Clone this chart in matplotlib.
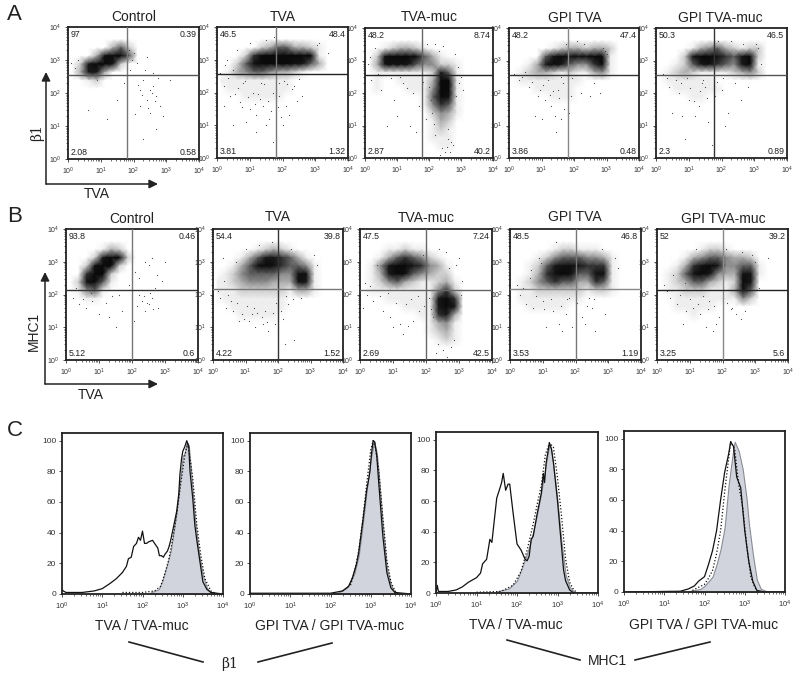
import numpy as np
import matplotlib
matplotlib.use('Agg')
import matplotlib.pyplot as plt
from matplotlib.colors import LinearSegmentedColormap

plt.rcParams['font.family'] = ['Liberation Sans', 'DejaVu Sans']

W, H = 800, 675

titles = ['Control', 'TVA', 'TVA-muc', 'GPI TVA', 'GPI TVA-muc']

# quadrant percentages: upper left, upper right, lower left, lower right
a_pct = [['97', '0.39', '2.08', '0.58'], ['46.5', '48.4', '3.81', '1.32'],
         ['48.2', '8.74', '2.87', '40.2'], ['48.2', '47.4', '3.86', '0.48'],
         ['50.3', '46.5', '2.3', '0.89']]
b_pct = [['93.8', '0.46', '5.12', '0.6'], ['54.4', '39.8', '4.22', '1.52'],
         ['47.5', '7.24', '2.69', '42.5'], ['48.5', '46.8', '3.53', '1.19'],
         ['52', '39.2', '3.25', '5.6']]

# density, 0-9, quarter decade cells, top row first
a_control = ['', '', '00000352', '0003899500', '0279972', '03773', '0012']
a_tva = ['', '', '0000023553321', '0002699999991', '0025899998753', '0134554332100',
         '111111111', '011111111', '00011111']
a_muc = ['', '', '0012332100', '0289998531', '0388875442210', '011111112751',
         '010011113991', '010001114991', '000000015981', '000000014651',
         '000000002431', '00000000132', '00000000121', '00000000111', '00000000011']
a_gpi = ['', '', '0000012332332', '0000579888991', '0013797544691',
         '0123321211341', '011111111', '00011111', '00000111']
a_gpimuc = ['', '', '0000134532122', '0002799865792', '0012578654791',
            '0123211112342', '0111111', '00111111', '000011']

b_control = ['', '', '00001320', '00027992', '0028992', '006992', '028951', '01451', '0011']
b_tva = ['', '', '0000012321', '000135776531', '0013589865541', '0124555544881',
         '1123444333871', '1112222221331', '011111111', '001111111', '00011111']
b_muc = ['', '', '00011211', '0013565421', '01479976431', '01379854322', '012453211231',
         '011111111462', '000111111796', '000001111797', '000000011673', '000000001341',
         '000000001231', '000000000121']
b_gpi = ['', '', '00000122111', '0001245554431', '0012578876661', '0013689855881',
         '0124565533651', '0112222221221', '011111111', '0011111']
b_gpimuc = ['', '', '000001221', '000134554332', '0013689744551', '0125897433871',
            '012355321297', '011222111385', '001111111142', '0011111', '00001']

# scattered single events, log10 x / log10 y
a_control_x = [2.3, 2.5, 2.7, 2.2, 2.9, 2.4, 2.6, 2.1, 1.9, 2.5, 2.8, 2.3, 0.6, 1.2, 1.7, 2.2, 2.6, 0.3, 2.0, 2.4, 1.8, 3.1, 0.9, 1.5, 2.7, 2.05, 2.35,
               2.15, 2.45, 2.65, 1.95, 2.75, 0.2, 0.1, 1.85, 2.25, 2.55]
a_control_y = [2.4, 2.1, 1.9, 1.6, 1.3, 1.8, 2.2, 2.9, 2.7, 1.4, 1.6, 0.6, 1.5, 1.2, 2.3, 2.1, 2.6, 3.0, 3.2, 3.1, 2.0, 2.4, 2.4, 1.8, 0.9, 1.35, 2.7,
               2.25, 1.55, 1.75, 3.0, 2.45, 2.75, 2.9, 3.3, 1.95, 2.0]
a_tva_x = [0.2, 0.4, 0.7, 1.0, 1.2, 1.4, 1.6, 1.7, 1.9, 2.1, 0.3, 0.6, 1.1, 1.5, 2.3, 2.5, 0.1, 0.8, 1.3, 1.8, 2.0, 2.2, 0.5, 0.9, 1.2, 1.7, 1.9, 2.6, 3.4, 3.1, 0.5, 1.5, 1.0, 0.2, 1.75,
           0.35, 0.65, 0.95, 1.25, 1.55, 1.85, 2.15, 2.45, 0.55, 0.85, 1.15, 1.45, 1.65, 2.05, 2.35, 0.25, 0.75, 1.35, 1.95, 3.05]
a_tva_y = [2.2, 1.9, 1.7, 1.5, 1.3, 1.6, 1.2, 2.0, 1.9, 1.6, 3.0, 3.3, 2.0, 1.0, 2.1, 2.4, 2.6, 2.3, 1.8, 1.4, 1.0, 1.3, 2.7, 1.1, 0.8, 0.5, 2.3, 1.9, 3.2, 3.5, 1.0, 3.6, 3.5, 1.6, 3.7,
           2.45, 2.15, 1.85, 1.95, 1.75, 1.55, 2.25, 1.75, 1.95, 2.35, 1.65, 2.25, 1.45, 2.35, 2.2, 2.85, 1.55, 2.3, 1.25, 3.45]
a_muc_x = [0.2, 0.5, 0.9, 1.2, 1.5, 1.7, 2.0, 2.3, 2.8, 2.9, 2.2, 2.6, 3.0, 0.3, 1.0, 1.4, 1.9, 2.1, 2.4, 2.7, 2.5, 2.2, 2.6, 2.75, 2.05, 2.85, 1.6, 0.7, 2.35, 2.55, 2.65,
           0.1, 0.15, 0.4, 0.8, 1.1, 1.3, 1.8, 2.45, 2.15, 2.95, 3.05, 1.95]
a_muc_y = [2.4, 2.1, 1.8, 2.3, 2.0, 1.6, 2.2, 3.3, 3.2, 2.8, 3.5, 0.9, 2.5, 3.4, 1.3, 1.0, 1.2, 1.4, 0.3, 0.5, 0.2, 0.7, 0.6, 0.4, 1.8, 1.9, 0.8, 1.0, 0.1, 0.35, 0.2,
           2.9, 3.1, 2.6, 2.45, 2.5, 2.15, 2.35, 3.45, 1.05, 2.3, 2.1, 3.5]
a_gpi_x = [0.3, 0.6, 0.9, 1.1, 1.3, 1.5, 1.7, 1.9, 2.2, 2.6, 0.8, 1.0, 1.4, 1.6, 1.45, 2.9, 3.0, 2.1, 1.75, 0.5, 1.2, 1.6, 2.5, 2.8, 0.15, 1.85,
           0.4, 0.7, 1.05, 1.35, 1.65, 1.95, 0.95, 1.25, 1.55, 2.3, 2.95, 0.25]
a_gpi_y = [2.4, 2.2, 1.9, 1.8, 1.6, 2.1, 1.5, 1.9, 2.0, 2.3, 1.3, 1.2, 1.3, 1.2, 0.8, 3.4, 3.2, 3.6, 3.5, 2.65, 2.4, 2.5, 1.9, 2.0, 2.6, 1.4,
           2.5, 2.35, 2.25, 2.05, 2.3, 2.45, 2.1, 1.95, 1.85, 3.5, 3.3, 2.55]
a_gpimuc_x = [0.4, 0.7, 1.0, 1.3, 1.5, 1.8, 2.0, 2.4, 0.8, 0.5, 1.2, 0.9, 1.6, 2.2, 2.6, 2.8, 3.1, 1.9, 2.3, 0.2, 0.6, 1.4, 1.7, 3.2, 2.1,
              0.35, 0.75, 1.05, 1.35, 1.55, 1.85, 1.15, 0.95, 1.45, 2.05, 2.65, 3.05]
a_gpimuc_y = [2.2, 2.0, 1.8, 1.6, 2.2, 1.9, 2.1, 2.3, 1.3, 1.4, 1.3, 0.6, 1.1, 1.4, 1.8, 2.2, 3.4, 3.6, 3.6, 2.6, 2.4, 2.3, 0.4, 2.9, 1.0,
              2.45, 2.3, 2.15, 2.05, 1.85, 2.35, 1.75, 2.45, 2.4, 2.45, 3.5, 3.5]

b_control_x = [2.3, 2.5, 2.6, 2.4, 2.2, 2.7, 2.8, 2.1, 2.5, 1.3, 0.8, 1.0, 1.7, 2.4, 2.6, 3.0, 2.2, 0.4, 1.6, 2.9, 2.45, 2.65, 2.35, 0.3, 1.5, 2.05,
               0.2, 0.5, 0.6, 0.75, 1.2, 1.4, 1.9, 2.55, 2.75, 2.15]
b_control_y = [1.8, 1.7, 1.9, 1.5, 2.0, 2.2, 1.6, 2.7, 2.9, 1.3, 1.8, 1.4, 1.5, 3.0, 3.1, 3.0, 2.5, 1.7, 2.0, 2.4, 1.75, 1.55, 1.95, 2.2, 1.0, 1.2,
               1.9, 1.85, 1.6, 2.05, 1.75, 1.95, 2.3, 2.05, 2.6, 1.65]
b_tva_x = [0.2, 0.4, 0.6, 0.9, 1.1, 1.3, 1.5, 1.7, 1.9, 2.1, 2.3, 0.7, 1.0, 1.4, 1.8, 2.4, 3.2, 0.3, 0.8, 1.2, 2.0, 2.5, 2.7, 3.1, 1.6, 2.2,
           0.15, 0.45, 0.75, 1.05, 1.35, 1.65, 1.95, 2.25, 0.55, 0.95, 1.25, 1.55, 1.85, 2.15, 2.45, 0.35]
b_tva_y = [1.9, 1.6, 1.5, 1.4, 1.2, 1.0, 1.3, 0.9, 1.1, 1.5, 1.7, 3.0, 3.4, 3.5, 3.6, 3.4, 2.9, 3.1, 1.2, 1.4, 0.9, 0.6, 1.9, 3.2, 1.5, 0.5,
           2.1, 2.0, 1.75, 1.65, 1.45, 1.15, 1.75, 1.95, 1.8, 1.25, 1.6, 1.1, 1.45, 1.25, 1.85, 2.4]
b_muc_x = [0.2, 0.4, 0.7, 0.9, 1.2, 1.4, 1.6, 1.8, 2.0, 2.1, 2.2, 0.5, 1.0, 1.9, 2.4, 2.6, 2.7, 2.9, 3.1, 2.5, 2.35, 2.85, 0.1, 1.3, 2.3, 2.65, 3.0, 2.75,
           0.3, 0.6, 0.85, 1.1, 1.55, 1.75, 1.95, 2.15, 1.45, 0.15, 3.05]
b_muc_y = [2.0, 1.8, 1.5, 1.3, 1.1, 1.7, 1.2, 1.5, 1.0, 1.9, 1.3, 2.9, 1.0, 3.2, 3.4, 3.3, 2.8, 2.9, 2.4, 0.3, 0.5, 0.6, 1.6, 0.8, 0.2, 0.1, 3.1, 0.4,
           2.25, 1.95, 2.05, 1.75, 1.85, 1.95, 1.65, 1.55, 1.05, 2.35, 2.0]
b_gpi_x = [0.3, 0.5, 0.7, 1.0, 1.3, 1.5, 1.7, 1.9, 2.2, 2.5, 0.9, 1.4, 2.0, 2.8, 3.2, 1.6, 2.4, 2.6, 0.2, 0.6, 1.1, 3.3, 2.9, 2.3, 1.8,
           0.4, 0.8, 1.05, 1.25, 1.55, 1.75, 2.05, 2.35, 2.55, 0.65, 0.95]
b_gpi_y = [2.0, 1.7, 1.6, 1.8, 1.5, 1.1, 1.4, 1.0, 1.3, 1.6, 3.1, 3.6, 3.5, 3.4, 3.1, 0.9, 1.9, 0.9, 2.3, 2.5, 1.0, 2.8, 1.4, 1.1, 1.9,
           2.2, 1.95, 1.55, 1.85, 1.65, 1.85, 1.75, 1.65, 1.85, 2.75, 2.95]
b_gpimuc_x = [0.4, 0.6, 0.9, 1.1, 1.3, 1.6, 1.8, 2.0, 2.3, 0.8, 1.5, 1.2, 2.1, 2.6, 2.9, 3.0, 3.4, 0.2, 0.5, 1.7, 2.4, 2.7, 1.9, 3.1,
              0.3, 0.7, 1.0, 1.4, 1.55, 1.75, 2.15, 0.85, 1.25, 2.25, 2.55]
b_gpimuc_y = [1.9, 1.7, 1.5, 1.6, 1.4, 1.8, 1.1, 1.9, 1.6, 1.1, 1.0, 3.4, 3.4, 3.3, 3.2, 3.0, 3.1, 2.3, 2.6, 0.9, 1.4, 1.5, 1.3, 2.2,
              2.1, 2.0, 1.85, 1.95, 1.55, 1.65, 1.75, 2.35, 1.7, 1.55, 1.25]

# gates in decades
a_gate_x = [1.79, 1.8, 1.78, 1.8, 1.78]
a_gate_y = [2.54, 2.55, 2.54, 2.54, 2.55]
b_gate_x = [2.0, 2.0, 2.0, 2.0, 2.0]
b_gate_y = [2.15, 2.17, 2.15, 2.17, 2.15]

# histograms: log10 x, percent of max
c1_gray_x = [2.2, 2.4, 2.5, 2.6, 2.7, 2.8, 2.9, 3.0, 3.05, 3.1, 3.15, 3.2, 3.3, 3.4, 3.5, 3.6, 3.7, 4.0]
c1_gray_y = [1, 3, 9, 18, 28, 45, 65, 90, 92, 99, 97, 82, 50, 27, 12, 4, 1, 0]
c1_solid_x = [0, 0.03, 0.1, 0.5, 0.8, 1.0, 1.2, 1.35, 1.5, 1.6, 1.65, 1.72, 1.78, 1.85, 1.9, 1.95, 2.0, 2.05, 2.1, 2.15, 2.25,
              2.3, 2.38, 2.42, 2.47, 2.52, 2.56, 2.62, 2.66, 2.7, 2.78, 2.85, 2.9, 2.93, 2.97, 3.0, 3.05, 3.1, 3.15, 3.18, 3.25,
              3.3, 3.35, 3.4, 3.5, 3.6, 3.7, 4.0]
c1_solid_y = [3, 2, 1, 1, 2, 3.5, 7, 10, 14, 18, 23, 24, 31, 33, 37, 35, 41, 33, 33, 34, 35,
              33, 30, 25, 25, 24, 26, 28, 31, 35, 45, 54, 65, 78, 88, 93, 96, 100, 96, 80, 62,
              45, 35, 26, 8, 3, 1, 0]
c1_dot_x = [1.5, 2.0, 2.3, 2.45, 2.55, 2.65, 2.75, 2.85, 2.95, 3.05, 3.12, 3.2, 3.25, 3.35, 3.45, 3.55, 3.7, 3.85]
c1_dot_y = [1, 1, 2, 5, 13, 22, 36, 52, 72, 90, 98, 85, 75, 45, 25, 10, 2, 0]

c2_gray_x = [2.0, 2.2, 2.4, 2.5, 2.6, 2.7, 2.8, 2.9, 2.95, 3.0, 3.05, 3.08, 3.15, 3.2, 3.3, 3.4, 3.5, 3.6, 3.8]
c2_gray_y = [0.5, 1, 4, 8, 14, 25, 45, 68, 78, 88, 95, 100, 92, 78, 45, 17, 6, 1, 0]
c2_solid_x = [0, 1.0, 2.0, 2.3, 2.45, 2.55, 2.65, 2.7, 2.8, 2.9, 2.95, 2.98, 3.02, 3.06, 3.1, 3.15, 3.2, 3.3, 3.4, 3.5, 3.6, 4.0]
c2_solid_y = [0.5, 0.5, 0.5, 2, 5, 11, 20, 27, 47, 68, 75, 80, 92, 100, 99, 90, 72, 38, 14, 4, 1, 0]
c2_dot_x = [2.3, 2.5, 2.6, 2.7, 2.8, 2.9, 3.0, 3.06, 3.12, 3.2, 3.3, 3.4, 3.5, 3.6, 3.7]
c2_dot_y = [2, 6, 15, 28, 48, 72, 94, 100, 95, 80, 50, 22, 8, 2, 0]

c3_gray_x = [1.5, 1.8, 2.0, 2.1, 2.2, 2.3, 2.4, 2.5, 2.6, 2.7, 2.8, 2.85, 2.95, 3.0, 3.1, 3.2, 3.3, 3.4]
c3_gray_y = [1, 3, 8, 15, 22, 30, 40, 52, 66, 82, 97, 93, 72, 60, 33, 12, 4, 1]
c3_solid_x = [0, 0.03, 0.06, 0.3, 0.5, 0.65, 0.8, 1.0, 1.1, 1.15, 1.25, 1.3, 1.33, 1.38, 1.45, 1.5, 1.55, 1.62, 1.66, 1.72, 1.78, 1.82, 1.9,
              2.0, 2.1, 2.2, 2.25, 2.3, 2.35, 2.4, 2.5, 2.6, 2.65, 2.68, 2.72, 2.8, 2.85, 2.9, 3.0, 3.1, 3.15, 3.2, 3.3, 3.4, 4.0]
c3_solid_y = [0, 5, 1, 1, 2, 4, 7, 10, 13, 19, 22, 30, 35, 33, 50, 62, 66, 72, 78, 67, 71, 71, 53,
              32, 28, 22, 21, 24, 35, 37, 52, 65, 78, 72, 85, 98, 94, 85, 60, 30, 15, 8, 2, 0, 0]
c3_dot_x = [1.0, 1.6, 1.9, 2.1, 2.25, 2.4, 2.5, 2.6, 2.7, 2.8, 2.9, 3.0, 3.1, 3.2, 3.3, 3.4, 3.5]
c3_dot_y = [0.5, 1, 5, 14, 28, 45, 58, 70, 90, 98, 95, 75, 50, 22, 7, 2, 0]

c4_gray_x = [1.6, 1.9, 2.0, 2.2, 2.3, 2.4, 2.5, 2.6, 2.7, 2.75, 2.85, 2.95, 3.0, 3.05, 3.1, 3.2, 3.3, 3.4, 3.6]
c4_gray_y = [0.5, 2, 4, 10, 18, 28, 42, 70, 90, 98, 92, 80, 70, 60, 45, 25, 8, 2, 0]
c4_solid_x = [0, 1.4, 1.6, 1.75, 1.85, 2.0, 2.1, 2.2, 2.3, 2.4, 2.5, 2.6, 2.65, 2.72, 2.8, 2.9, 3.0, 3.1, 3.2, 3.3, 3.5, 4.0]
c4_solid_y = [0, 0.5, 2, 4, 7, 10, 18, 27, 40, 60, 78, 90, 98, 95, 75, 68, 40, 20, 7, 1, 0, 0]
c4_dot_x = [1.7, 2.0, 2.1, 2.2, 2.3, 2.4, 2.5, 2.6, 2.65, 2.75, 2.85, 2.95, 3.05, 3.15, 3.25, 3.35]
c4_dot_y = [1, 5, 9, 14, 25, 40, 65, 87, 98, 93, 70, 55, 30, 10, 3, 0]

c_labels = ['TVA / TVA-muc', 'GPI TVA / GPI TVA-muc', 'TVA / TVA-muc', 'GPI TVA / GPI TVA-muc']

flow_cmap = LinearSegmentedColormap.from_list('flow', [(0, '#ffffff'), (1 / 9, '#eeeeee'), (4 / 9, '#8c8c8c'), (6.5 / 9, '#1c1c1c'), (1, '#0a0a0a')])


def add_axes_px(fig, left, top, right, bottom):
    return fig.add_axes([left / W, 1 - bottom / H, (right - left) / W, (bottom - top) / H])


def style_log(ax, size):
    ax.set_xscale('log')
    ax.set_xlim(1, 1e4)
    ax.set_xticks([1, 10, 100, 1000, 10000])
    ax.tick_params(which='major', labelsize=size, length=2.5, width=0.6, pad=2, colors='#333333')
    ax.tick_params(which='minor', length=1.2, width=0.4, labelbottom=False, labelleft=False)
    for s in ax.spines.values():
        s.set_linewidth(1.3)
        s.set_color('#222222')


def density_panel(fig, box, grid, dx, dy, gate_x, gate_y, pct, gate_col):
    ax = add_axes_px(fig, *box)
    style_log(ax, 5)
    ax.set_yscale('log')
    ax.set_ylim(1, 1e4)
    ax.set_yticks([1, 10, 100, 1000, 10000])
    ax.tick_params(which='major', labelsize=5, length=2.5, width=0.6, pad=2, colors='#333333')
    ax.tick_params(which='minor', length=1.2, width=0.4, labelleft=False)

    rows = [[int(ch) for ch in r.ljust(16, '0')] for r in grid]
    while len(rows) < 16:
        rows.append([0] * 16)
    z = np.array(rows, dtype=float)
    centers = 10 ** (np.arange(16) * 0.25 + 0.125)
    centers_y = 10 ** (4 - np.arange(16) * 0.25 - 0.125)
    ax.pcolormesh(centers, centers_y, z, shading='gouraud', cmap=flow_cmap, vmin=0, vmax=9, rasterized=True)
    ax.scatter(10 ** np.array(dx), 10 ** np.array(dy), s=0.7, c='#444444', linewidths=0, zorder=2)

    ax.axvline(10 ** gate_x, color=gate_col[0], lw=1.0, zorder=3)
    ax.axhline(10 ** gate_y, color=gate_col[1], lw=1.0, zorder=3)

    ax.text(0.02, 0.975, pct[0], transform=ax.transAxes, fontsize=6.3, va='top', color='#222222')
    ax.text(0.98, 0.975, pct[1], transform=ax.transAxes, fontsize=6.3, va='top', ha='right', color='#222222')
    ax.text(0.02, 0.015, pct[2], transform=ax.transAxes, fontsize=6.3, va='bottom', color='#222222')
    ax.text(0.98, 0.015, pct[3], transform=ax.transAxes, fontsize=6.3, va='bottom', ha='right', color='#222222')


def hist_panel(fig, box, gray, solid, dotted):
    ax = add_axes_px(fig, *box)
    style_log(ax, 5.5)
    ax.set_ylim(0, 105)
    ax.set_yticks([0, 20, 40, 60, 80, 100])
    ax.tick_params(axis='y', labelsize=6, length=2)
    ax.fill_between(10 ** np.array(gray[0]), gray[1], color='#d1d4dd', lw=0.8, edgecolor='#8a8c94')
    ax.plot(10 ** np.array(dotted[0]), dotted[1], color='#111111', lw=0.9, ls=(0, (1, 1.6)))
    ax.plot(10 ** np.array(solid[0]), solid[1], color='#111111', lw=0.9)


fig = plt.figure(figsize=(W / 100, H / 100), dpi=100)

a_boxes = [(68, 27, 199, 159), (217, 27, 348, 158), (365, 28, 493, 158), (509, 28, 639, 158), (656, 28, 787, 158)]
b_boxes = [(66, 229, 198, 360), (213, 229, 343, 360), (360, 229, 492, 360), (510, 229, 641, 360), (657, 229, 788, 360)]
c_boxes = [(62, 433, 223, 594), (250, 433, 411, 594), (436, 432, 598, 593), (624, 431, 785, 592)]

a_grids = [a_control, a_tva, a_muc, a_gpi, a_gpimuc]
b_grids = [b_control, b_tva, b_muc, b_gpi, b_gpimuc]
a_dots = [(a_control_x, a_control_y), (a_tva_x, a_tva_y), (a_muc_x, a_muc_y), (a_gpi_x, a_gpi_y), (a_gpimuc_x, a_gpimuc_y)]
b_dots = [(b_control_x, b_control_y), (b_tva_x, b_tva_y), (b_muc_x, b_muc_y), (b_gpi_x, b_gpi_y), (b_gpimuc_x, b_gpimuc_y)]
a_cols = [('#777777', '#555555'), ('#777777', '#222222'), ('#666666', '#222222'), ('#888888', '#333333'), ('#333333', '#555555')]
b_cols = [('#777777', '#333333'), ('#333333', '#777777'), ('#666666', '#666666'), ('#777777', '#888888'), ('#888888', '#222222')]

for i in range(5):
    density_panel(fig, a_boxes[i], a_grids[i], a_dots[i][0], a_dots[i][1], a_gate_x[i], a_gate_y[i], a_pct[i], a_cols[i])
    density_panel(fig, b_boxes[i], b_grids[i], b_dots[i][0], b_dots[i][1], b_gate_x[i], b_gate_y[i], b_pct[i], b_cols[i])

hist_panel(fig, c_boxes[0], (c1_gray_x, c1_gray_y), (c1_solid_x, c1_solid_y), (c1_dot_x, c1_dot_y))
hist_panel(fig, c_boxes[1], (c2_gray_x, c2_gray_y), (c2_solid_x, c2_solid_y), (c2_dot_x, c2_dot_y))
hist_panel(fig, c_boxes[2], (c3_gray_x, c3_gray_y), (c3_solid_x, c3_solid_y), (c3_dot_x, c3_dot_y))
hist_panel(fig, c_boxes[3], (c4_gray_x, c4_gray_y), (c4_solid_x, c4_solid_y), (c4_dot_x, c4_dot_y))

# overlay in pixel coordinates for the labels, arrows and brackets
ov = fig.add_axes([0, 0, 1, 1], zorder=10)
ov.set_xlim(0, W)
ov.set_ylim(H, 0)
ov.axis('off')
ov.patch.set_alpha(0)

txt = dict(ha='center', va='center', color='#222222')
ov.text(14, 14, 'A', fontsize=16, **txt)
ov.text(15, 217, 'B', fontsize=16, **txt)
ov.text(15, 430, 'C', fontsize=16, **txt)

a_title_x = [134, 283, 429, 575, 720]
a_title_y = [17, 17, 17, 18, 18]
b_title_x = [132, 278, 426, 575, 723]
b_title_y = [219, 217, 218, 217, 219]
for i in range(5):
    ov.text(a_title_x[i], a_title_y[i], titles[i], fontsize=10, **txt)
    ov.text(b_title_x[i], b_title_y[i], titles[i], fontsize=10, **txt)

for x0, y0, y1, x1 in [(46, 184, 72, 158), (45, 384, 272, 158)]:
    ov.annotate('', xy=(x0, y1), xytext=(x0, y0), arrowprops=dict(arrowstyle='-|>', color='#222222', lw=1.1, mutation_scale=13, shrinkA=0, shrinkB=0))
    ov.annotate('', xy=(x1, y0), xytext=(x0, y0), arrowprops=dict(arrowstyle='-|>', color='#222222', lw=1.1, mutation_scale=13, shrinkA=0, shrinkB=0))

ov.text(37, 133, 'β1', fontsize=10, rotation=90, family='DejaVu Serif', **txt)
ov.text(97, 194, 'TVA', fontsize=10, **txt)
ov.text(34, 331, 'MHC1', fontsize=10, rotation=90, **txt)
ov.text(91, 395, 'TVA', fontsize=10, **txt)

c_label_x = [142, 330, 516, 704]
c_label_y = [626, 626, 625, 625]
for i in range(4):
    ov.text(c_label_x[i], c_label_y[i], c_labels[i], fontsize=10, **txt)

ov.plot([129, 203], [642, 662], color='#222222', lw=1.2)
ov.plot([258, 332], [662, 643], color='#222222', lw=1.2)
ov.plot([507, 580], [640, 660], color='#222222', lw=1.2)
ov.plot([635, 710], [660, 642], color='#222222', lw=1.2)
ov.text(230, 664, 'β1', fontsize=10, family='DejaVu Serif', **txt)
ov.text(607, 661, 'MHC1', fontsize=10, **txt)

fig.savefig('out.png', dpi=100)
